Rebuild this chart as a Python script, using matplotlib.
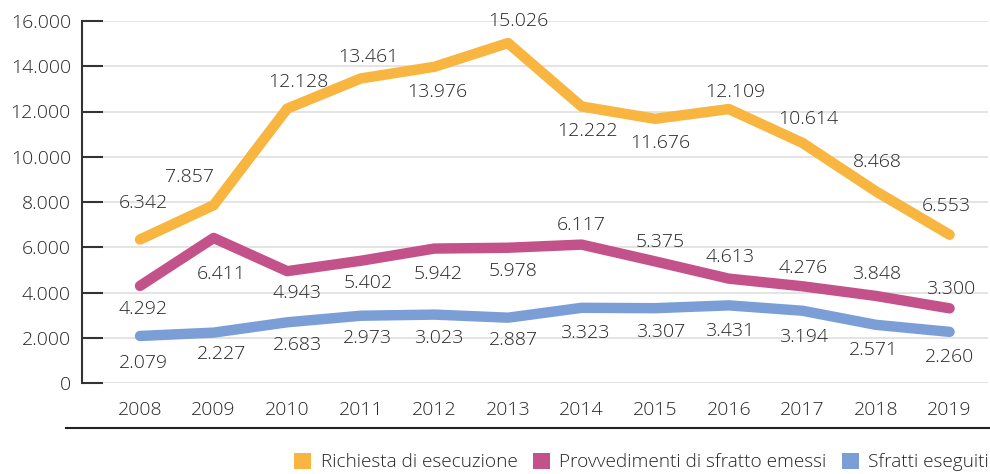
import matplotlib
matplotlib.use("Agg")
import matplotlib.pyplot as plt
from matplotlib.patches import Patch
from matplotlib.lines import Line2D
from matplotlib import font_manager

years = [2008, 2009, 2010, 2011, 2012, 2013, 2014, 2015, 2016, 2017, 2018, 2019]
richiesta = [6342, 7857, 12128, 13461, 13976, 15026, 12222, 11676, 12109, 10614, 8468, 6553]
provvedimenti = [4292, 6411, 4943, 5402, 5942, 5978, 6117, 5375, 4613, 4276, 3848, 3300]
sfratti = [2079, 2227, 2683, 2973, 3023, 2887, 3323, 3307, 3431, 3194, 2571, 2260]
series_names = ["Richiesta di esecuzione", "Provvedimenti di sfratto emessi", "Sfratti eseguiti"]
y_ticks = [0, 2000, 4000, 6000, 8000, 10000, 12000, 14000, 16000]

colors = ["#F8B53F", "#C4528A", "#7C9ED6"]

# label offsets in pixels (dx, dy up)
off_r = [(3, 37), (-24, 28), (11, 27), (7, 21), (3, -25), (10, 22), (6, -25), (5, -24), (6, 17), (6, 24), (1, 29), (-3, 29)]
off_p = [(3, -23), (8, -36), (10, -22), (7, -22), (4, -25), (5, -23), (0, 20), (5, 19), (1, 22), (1, 18), (1, 22), (1, 19)]
off_s = [(3, -27), (8, -21), (10, -23), (7, -22), (4, -23), (5, -22), (3, -25), (5, -24), (1, -26), (1, -26), (-3, -25), (0, -25)]

FONT = ["Open Sans", "DejaVu Sans"]
plt.rcParams["font.family"] = FONT
names = {f.name for f in font_manager.fontManager.ttflist if f.name == "Open Sans" and f.weight <= 300}
WEIGHT = 300 if names else "normal"
plt.rcParams["font.weight"] = WEIGHT
TXT = "#262626"

def fmt(v):
    return f"{v:,}".replace(",", ".")

fig = plt.figure(figsize=(9.9, 4.74), dpi=100)
ax = fig.add_axes([82 / 990, (474 - 383) / 474, 906 / 990, 362 / 474])
ax.set_ylim(0, 16000)
ax.set_xlim(2008 - 58 / 73.6, 2019 + 38.4 / 73.6)

for t in y_ticks:
    ax.axhline(t, color="#dcdcdc", lw=1.1, zorder=1)

for vals, c, offs in zip([richiesta, provvedimenti, sfratti], colors, [off_r, off_p, off_s]):
    ax.plot(years, vals, color=c, lw=7.5, solid_capstyle="round", solid_joinstyle="round", zorder=3)
    for x, v, (dx, dy) in zip(years, vals, offs):
        ax.annotate(fmt(v), (x, v), xytext=(dx, dy), textcoords="offset pixels",
                    ha="center", va="center", fontsize=14, color=TXT, zorder=4)

for s in ["top", "right", "bottom"]:
    ax.spines[s].set_visible(False)
ax.spines["left"].set_color("#333333")
ax.spines["left"].set_linewidth(1.5)

ax.set_yticks(y_ticks)
ax.set_yticklabels([fmt(t) for t in y_ticks])
ax.set_xticks(years)
ax.set_xticklabels([str(y) for y in years])
ax.tick_params(axis="y", direction="in", length=15, width=1.5, color="#333333",
               pad=8, labelsize=14, labelcolor=TXT)
ax.tick_params(axis="x", length=0, pad=13, labelsize=14, labelcolor=TXT)

fig.add_artist(Line2D([66 / 990, 1.0], [(474 - 428) / 474] * 2, color="#222222", lw=1.5,
                      transform=fig.transFigure))

handles = [Patch(facecolor=c, edgecolor="none") for c in colors]
fig.legend(handles, series_names, loc="center right", bbox_to_anchor=(0.999, (474 - 462) / 474),
           ncol=3, frameon=False, fontsize=13.7, handlelength=0.9, handleheight=0.95,
           handletextpad=0.5, columnspacing=0.8, borderpad=0, borderaxespad=0,
           labelcolor=TXT)

fig.savefig("out.png", dpi=100)
